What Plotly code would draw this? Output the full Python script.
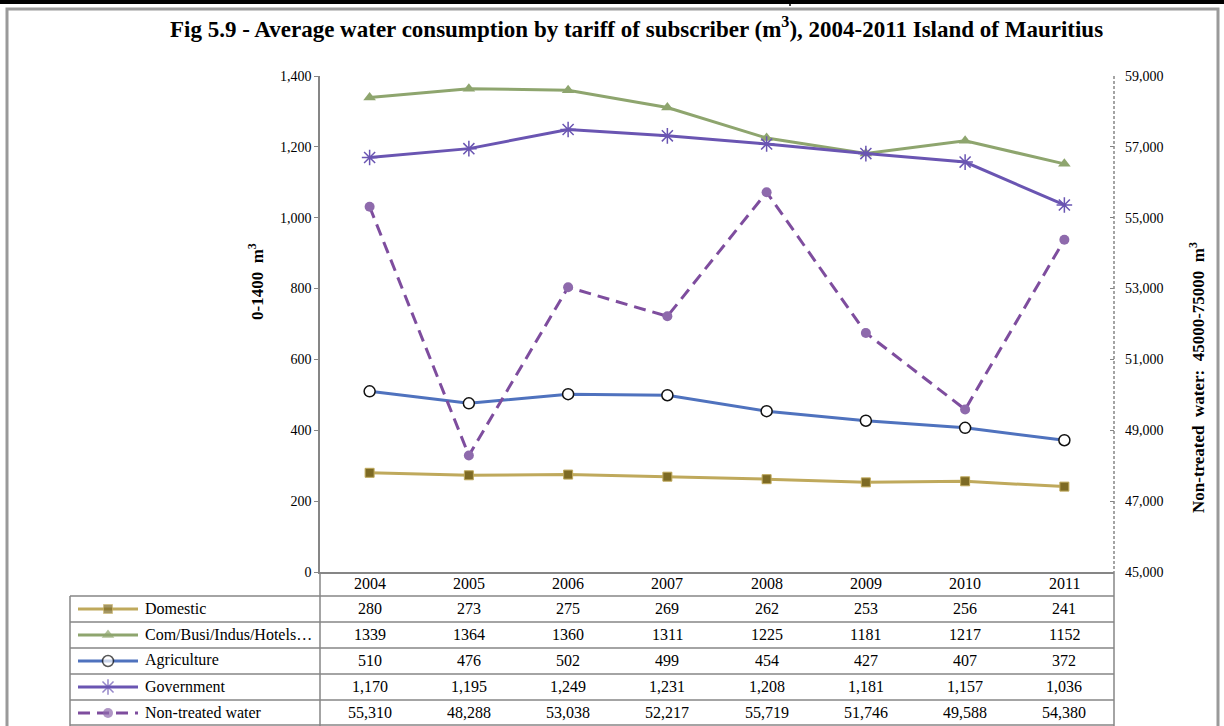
import plotly.graph_objects as go

W, H = 1224, 726

years = ["2004", "2005", "2006", "2007", "2008", "2009", "2010", "2011"]
domestic = [280, 273, 275, 269, 262, 253, 256, 241]
commercial = [1339, 1364, 1360, 1311, 1225, 1181, 1217, 1152]
agriculture = [510, 476, 502, 499, 454, 427, 407, 372]
government = [1170, 1195, 1249, 1231, 1208, 1181, 1157, 1036]
non_treated = [55310, 48288, 53038, 52217, 55719, 51746, 49588, 54380]

left_ticks = [0, 200, 400, 600, 800, 1000, 1200, 1400]
right_ticks = [45000, 47000, 49000, 51000, 53000, 55000, 57000, 59000]

SERIF = "Liberation Serif, Times New Roman, serif"
GRID = "#868686"

# series: name, values, axis, line colour, dash, marker, comma formatting
series = [
    dict(name="Domestic", y=domestic, axis="y", color="#BFA95C", dash="solid",
         symbol="square", size=9, mcolor="#7D6A24", mline="#BFA95C", mwidth=1, comma=False),
    dict(name="Com/Busi/Indus/Hotels…", y=commercial, axis="y", color="#8EA56E", dash="solid",
         symbol="triangle-up", size=11, mcolor="#8EA56E", mline="#8EA56E", mwidth=0, comma=False),
    dict(name="Agriculture", y=agriculture, axis="y", color="#4F72BE", dash="solid",
         symbol="circle", size=11, mcolor="white", mline="#111111", mwidth=1.5, comma=False),
    dict(name="Government", y=government, axis="y", color="#6A55B2", dash="solid",
         symbol="asterisk-open", size=13, mcolor="#6A55B2", mline="#6A55B2", mwidth=1.5, comma=True),
    dict(name="Non-treated water", y=non_treated, axis="y2", color="#7E4D9E", dash="12px,7px",
         symbol="circle", size=10, mcolor="#8E6AAC", mline="#8E6AAC", mwidth=0, comma=True),
]

# pixel geometry of the Excel layout
PX0, PX1 = 320, 1114
PY0, PY1 = 76, 572
TAB_X0 = 70
HEAD_Y1 = 596
ROW_H = (H - HEAD_Y1) / 5


def px(x):
    return x / W


def py(y):
    return 1 - y / H


fig = go.Figure()

for s in series:
    fig.add_trace(go.Scatter(
        x=years, y=s["y"], yaxis=s["axis"], mode="lines+markers", name=s["name"],
        line=dict(color=s["color"], width=3, dash=s["dash"]),
        marker=dict(symbol=s["symbol"], size=s["size"], color=s["mcolor"],
                    line=dict(color=s["mline"], width=s["mwidth"])),
        showlegend=False,
    ))

# legend keys in the table's label column (marker only at the middle point)
for i, s in enumerate(series):
    fig.add_trace(go.Scatter(
        x=[78, 108, 138], y=[i + 0.5] * 3, xaxis="x3", yaxis="y3",
        mode="lines+markers",
        line=dict(color=s["color"], width=3, dash=s["dash"]),
        marker=dict(symbol=s["symbol"], size=[0, s["size"], 0], color=s["mcolor"],
                    line=dict(color=s["mline"], width=[0, s["mwidth"], 0])),
        showlegend=False, hoverinfo="skip",
    ))

line = dict(color=GRID, width=1.5)
shapes = [
    # outer frame and fragment of the page above
    dict(type="rect", xref="paper", yref="paper", x0=px(7), x1=px(1218), y0=py(H + 5), y1=py(9),
         line=dict(color="#9A9A9A", width=3)),
    dict(type="rect", xref="paper", yref="paper", x0=0, x1=1, y0=py(4), y1=1,
         line=dict(width=0), fillcolor="black"),
    dict(type="line", xref="paper", yref="paper", x0=px(790), x1=px(790), y0=py(0), y1=py(6),
         line=dict(color="black", width=1.5)),
    # secondary axis line is dashed
    dict(type="line", xref="paper", yref="paper", x0=px(PX1), x1=px(PX1), y0=py(PY0), y1=py(PY1),
         line=dict(color=GRID, width=1.5, dash="3px,2px")),
    dict(type="line", xref="paper", yref="paper", x0=px(TAB_X0), x1=px(TAB_X0),
         y0=py(HEAD_Y1), y1=py(H), line=line),
]
for k in range(5):
    yy = HEAD_Y1 + k * ROW_H
    shapes.append(dict(type="line", xref="paper", yref="paper", x0=px(TAB_X0), x1=px(PX1),
                       y0=py(yy), y1=py(yy), line=line))
shapes.append(dict(type="line", xref="paper", yref="paper", x0=px(TAB_X0), x1=px(PX1),
                   y0=py(H - 1), y1=py(H - 1), line=line))
for xx in (PX0, PX1):
    shapes.append(dict(type="line", xref="paper", yref="paper", x0=px(xx), x1=px(xx),
                       y0=py(PY1), y1=py(H), line=line))

TXT = dict(family=SERIF, size=16, color="black")


def note(x, y, text, font=TXT, xanchor="center", angle=0):
    return dict(x=px(x), y=py(y), xref="paper", yref="paper", text=text, showarrow=False,
                xanchor=xanchor, yanchor="middle", textangle=angle, font=font)


annotations = []
col_w = (PX1 - PX0) / len(years)
for j, yr in enumerate(years):
    annotations.append(note(PX0 + col_w * (j + 0.5), (PY1 + HEAD_Y1) / 2 - 1, yr))
for i, s in enumerate(series):
    cy = HEAD_Y1 + ROW_H * (i + 0.5) - 1
    annotations.append(note(143, cy, s["name"], xanchor="left"))
    for j, v in enumerate(s["y"]):
        annotations.append(note(PX0 + col_w * (j + 0.5), cy, f"{v:,}" if s["comma"] else f"{v}"))

BOLD = dict(family=SERIF, size=17, color="black")
annotations.append(note(W / 2 + 24, 28,
                        "<b>Fig 5.9 - Average water consumption by tariff of subscriber (m<sup>3</sup>), "
                        "2004-2011 Island of Mauritius</b>", font=dict(family=SERIF, size=23, color="black")))
annotations.append(note(256, 282, "<b>0-1400  m<sup>3</sup></b>", font=BOLD, angle=-90))
annotations.append(note(1197, 378, "<b>Non-treated  water:  45000-75000  m<sup>3</sup></b>",
                        font=BOLD, angle=-90))

fig.update_layout(
    width=W, height=H,
    margin=dict(l=0, r=0, t=0, b=0),
    paper_bgcolor="white", plot_bgcolor="white",
    template="none",
    shapes=shapes, annotations=annotations,
    xaxis=dict(domain=[px(PX0), px(PX1)], type="category", range=[-0.5, 7.5],
               showticklabels=False, ticks="", showgrid=False, zeroline=False,
               showline=True, linecolor=GRID, linewidth=1.5, automargin=False),
    yaxis=dict(domain=[py(PY1), py(PY0)], range=[0, 1400], tickvals=left_ticks,
               tickformat=",", ticks="outside", ticklen=4, tickcolor=GRID,
               showgrid=False, zeroline=False, showline=True, linecolor=GRID, linewidth=1.5,
               tickfont=dict(family=SERIF, size=14, color="black"), automargin=False),
    yaxis2=dict(domain=[py(PY1), py(PY0)], overlaying="y", side="right", anchor="x",
                range=[45000, 59000], tickvals=right_ticks, tickformat=",",
                ticks="inside", ticklen=4, tickcolor=GRID, showgrid=False, zeroline=False,
                showline=False, ticklabelstandoff=10,
                tickfont=dict(family=SERIF, size=14, color="black"), automargin=False),
    xaxis3=dict(domain=[px(TAB_X0), px(PX0)], range=[TAB_X0, PX0], visible=False, anchor="y3"),
    yaxis3=dict(domain=[0, py(HEAD_Y1)], range=[5, 0], visible=False, anchor="x3"),
    hovermode="closest",
)

# the page body has an 8px default margin; drop it so the figure sits at the window origin
fig.write_html("out.html", config={"displayModeBar": False},
               post_script="document.body.style.margin='0';")
